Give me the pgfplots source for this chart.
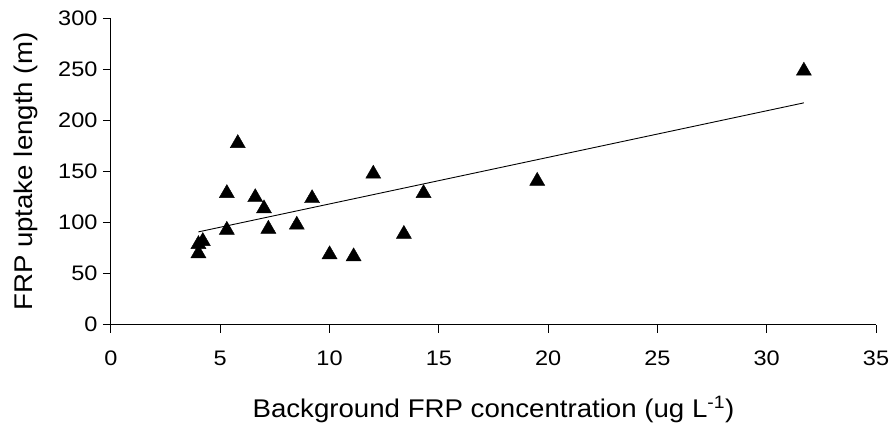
\documentclass[border=0pt]{standalone}
\usepackage{fontspec}
\setmainfont{Liberation Sans}
\usepackage{graphicx}
\usepackage{pgfplots}
\pgfplotsset{compat=1.18}
\begin{document}
\begin{tikzpicture}
\begin{axis}[
  name=ax,
  scale only axis, width=765pt, height=306pt,
  xmin=0, xmax=35, ymin=0, ymax=300,
  xtick={0,5,...,35}, ytick={0,50,...,300},
  axis lines*=left, axis line style={-, line width=1pt},
  tick align=outside, major tick length=8pt,
  tick style={black, line width=1pt},
  ticklabel style={font=\fontsize{21}{24}\selectfont},
  xticklabel={\scalebox{1.12}[1]{\pgfmathprintnumber{\tick}}},
  yticklabel={\scalebox{1.12}[1]{\pgfmathprintnumber{\tick}}},
  xticklabel style={yshift=-15pt},
  yticklabel style={xshift=-2pt},
  label style={font=\fontsize{25.6}{28}\selectfont},
  /pgf/number format/assume math mode=true,
  xlabel={\scalebox{1.08}[1]{Background FRP concentration (ug L\textsuperscript{-1})}},
  ylabel={\scalebox{1.08}[1]{FRP uptake length (m)}},
  xlabel style={at={(axis description cs:0.5,-0.3049)}, anchor=base},
  ylabel style={at={(axis description cs:-0.10196,0.5)}, anchor=base},
  clip=false,
]
\addplot[only marks, mark=triangle*, mark size=8.7pt, mark options={fill=black, draw=black, yshift=-2.2pt}] coordinates {
  (4.0,72) (4.0,81) (4.2,84) (5.3,131) (5.3,95) (5.8,180) (6.6,127)
  (7.0,116) (7.2,96) (8.5,100) (9.2,126) (10.0,71) (11.1,69) (12.0,150)
  (13.4,91) (14.3,131) (19.5,143) (31.7,251)
};
\addplot[black, line width=0.9pt] coordinates {(4.0,91) (31.7,217.5)};
\end{axis}
\pgfresetboundingbox
\path[use as bounding box] ([xshift=-111pt,yshift=-102.3pt]ax.south west) rectangle ([xshift=14pt,yshift=18.7pt]ax.north east);
\end{tikzpicture}
\end{document}
